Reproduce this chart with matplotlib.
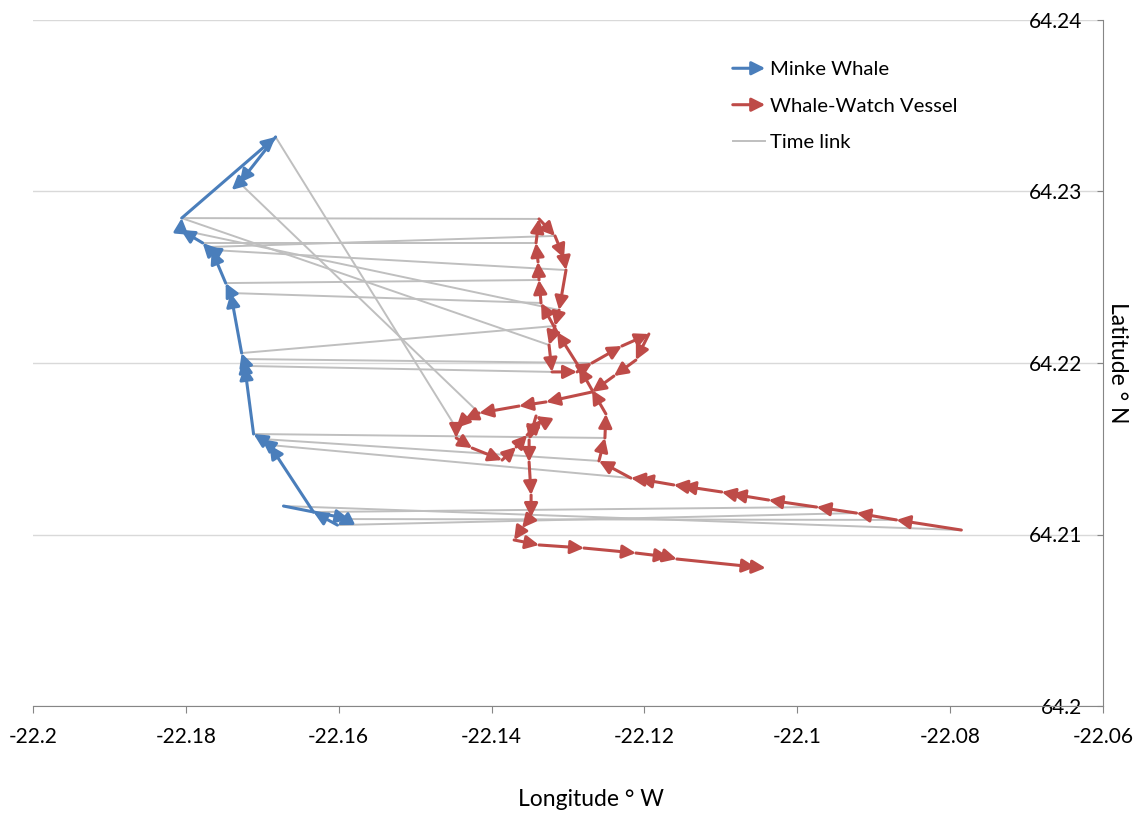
import matplotlib.pyplot as plt
from matplotlib.patches import FancyArrowPatch
from matplotlib.lines import Line2D
from matplotlib.legend_handler import HandlerBase
from matplotlib.ticker import FuncFormatter

plt.rcParams['font.family'] = ['Lato', 'DejaVu Sans']

# minke whale track (in time order)
whale_lon = [-22.16722, -22.15860, -22.16017, -22.16330, -22.16905, -22.17009, -22.17114,
             -22.17231, -22.17244, -22.17270, -22.17414, -22.17479, -22.17662, -22.17728,
             -22.17780, -22.18067, -22.18054, -22.16826, -22.17297, -22.17401]
whale_lat = [64.21166, 64.21090, 64.21055, 64.21131, 64.21522, 64.21557, 64.21586,
             64.21983, 64.22023, 64.22058, 64.22408, 64.22466, 64.22659, 64.22676,
             64.22700, 64.22776, 64.22845, 64.23318, 64.23050, 64.23009]

# whale-watch vessel track (in time order)
vessel_lon = [-22.07854, -22.08703, -22.09226, -22.09748, -22.10375, -22.10858, -22.10989,
              -22.11511, -22.11616, -22.12073, -22.12177, -22.12595, -22.12517, -22.12504,
              -22.12686, -22.12856, -22.13144, -22.13353, -22.13379, -22.13392, -22.13418,
              -22.13379, -22.13170, -22.13052, -22.13026, -22.13117, -22.13170, -22.13248,
              -22.13209, -22.12882, -22.12686, -22.12295, -22.11942, -22.12112, -22.12399,
              -22.12686, -22.13287, -22.13640, -22.14162, -22.14358, -22.14463, -22.14463,
              -22.14254, -22.13862, -22.13679, -22.13535, -22.13339, -22.13418, -22.13509,
              -22.13509, -22.13483, -22.13483, -22.13601, -22.13705, -22.13379, -22.12791,
              -22.12112, -22.11681, -22.11576, -22.10545, -22.10414]
vessel_lat = [64.21026, 64.21085, 64.21125, 64.21160, 64.21201, 64.21236, 64.21248,
              64.21283, 64.21289, 64.21324, 64.21329, 64.21429, 64.21563, 64.21703,
              64.21843, 64.21977, 64.22181, 64.22350, 64.22484, 64.22589, 64.22700,
              64.22840, 64.22741, 64.22612, 64.22542, 64.22309, 64.22216, 64.22105,
              64.21948, 64.21948, 64.22000, 64.22099, 64.22169, 64.22017, 64.21924,
              64.21831, 64.21773, 64.21749, 64.21708, 64.21668, 64.21621, 64.21563,
              64.21504, 64.21434, 64.21510, 64.21580, 64.21668, 64.21691, 64.21551,
              64.21423, 64.21230, 64.21102, 64.21038, 64.20968, 64.20939, 64.20921,
              64.20892, 64.20869, 64.20857, 64.20810, 64.20805]

# time links: index into whale track -> index into vessel track
link_whale = [0, 1, 2, 3, 4, 5, 6, 7, 8, 9, 10, 11, 12, 13, 14, 15, 16, 16, 17, 18]
link_vessel = [0, 1, 2, 3, 10, 11, 12, 28, 30, 26, 17, 18, 24, 22, 20, 25, 21, 27, 40, 38]

x_ticks = [-22.2, -22.18, -22.16, -22.14, -22.12, -22.1, -22.08, -22.06]
y_ticks = [64.2, 64.21, 64.22, 64.23, 64.24]

BLUE = '#4a7ebb'
RED = '#be4b48'
GREY = '#bfbfbf'
ARROW = '-|>,head_length=0.8,head_width=0.4'


def draw_track(ax, lon, lat, color):
    for i in range(1, len(lon)):
        ax.annotate('', xy=(lon[i], lat[i]), xytext=(lon[i - 1], lat[i - 1]),
                    arrowprops=dict(arrowstyle=ARROW, color=color, lw=2.2,
                                    shrinkA=0, shrinkB=0, mutation_scale=10),
                    zorder=3)


class ArrowHandler(HandlerBase):
    def create_artists(self, legend, orig_handle, xdescent, ydescent,
                       width, height, fontsize, trans):
        y = height / 2 - ydescent
        arr = FancyArrowPatch((-xdescent, y), (width - xdescent, y),
                              arrowstyle=ARROW, color=orig_handle.get_edgecolor(),
                              lw=2.2, mutation_scale=10, shrinkA=0, shrinkB=0,
                              transform=trans)
        return [arr]


fig = plt.figure(figsize=(11.35, 8.16), dpi=100)
ax = fig.add_axes([33 / 1135, 1 - 706 / 816, 1070 / 1135, 686 / 816])

for w, v in zip(link_whale, link_vessel):
    ax.plot([whale_lon[w], vessel_lon[v]], [whale_lat[w], vessel_lat[v]],
            color=GREY, lw=1.4, zorder=2)

draw_track(ax, whale_lon, whale_lat, BLUE)
draw_track(ax, vessel_lon, vessel_lat, RED)

ax.set_xlim(-22.2, -22.06)
ax.set_ylim(64.2, 64.24)
ax.set_xticks(x_ticks)
ax.set_yticks(y_ticks)
fmt = FuncFormatter(lambda v, p: f'{v:g}')
ax.xaxis.set_major_formatter(fmt)
ax.yaxis.set_major_formatter(fmt)

ax.yaxis.grid(True, color='#d9d9d9', lw=1)
ax.set_axisbelow(True)
for s in ['left', 'top']:
    ax.spines[s].set_visible(False)
for s in ['right', 'bottom']:
    ax.spines[s].set_color('#868686')

ax.yaxis.tick_right()
ax.tick_params(axis='y', direction='in', length=4, color='#868686', pad=-15,
               labelsize=15, labelcolor='#000000')
for lab in ax.get_yticklabels():
    lab.set_horizontalalignment('right')
ax.tick_params(axis='x', direction='out', length=5, color='#868686', pad=10,
               labelsize=15)

ax.yaxis.set_label_position('right')
ax.set_ylabel('Latitude ° N', rotation=270, fontsize=16.5, labelpad=18)
ax.set_xlabel('Longitude ° W', fontsize=16.5, labelpad=30)
ax.xaxis.label.set_x(0.5215)

handles = [FancyArrowPatch((0, 0), (1, 0), color=BLUE),
           FancyArrowPatch((0, 0), (1, 0), color=RED),
           Line2D([], [], color=GREY, lw=1.4)]
ax.legend(handles, ['Minke Whale', 'Whale-Watch Vessel', 'Time link'],
          handler_map={FancyArrowPatch: ArrowHandler()},
          loc='upper left', bbox_to_anchor=(0.654, 0.94), frameon=False,
          fontsize=14.6, handlelength=1.6, handletextpad=0.22,
          labelspacing=0.95, borderpad=0, borderaxespad=0)

fig.savefig('out.png', dpi=100)
